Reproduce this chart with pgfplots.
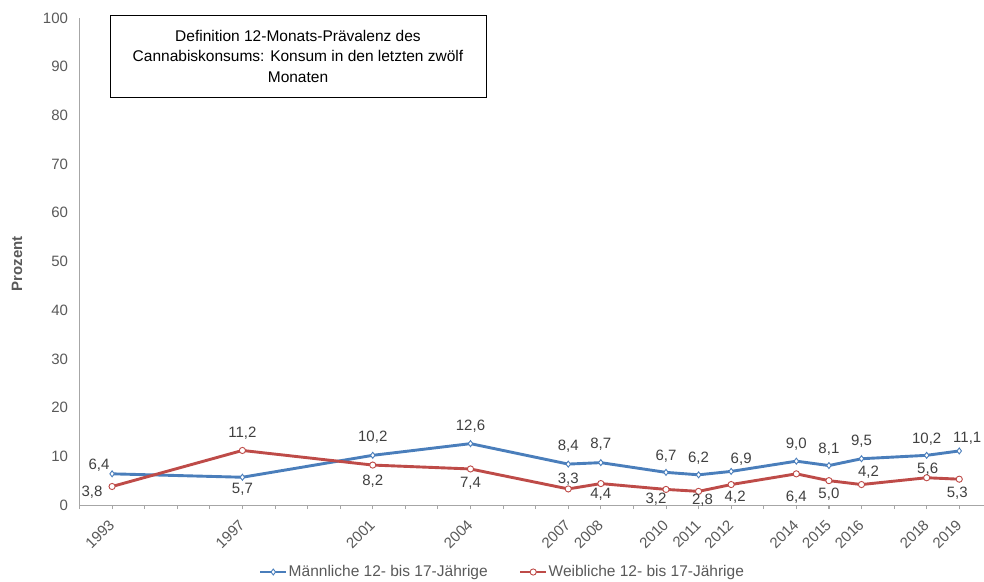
\documentclass[border=0pt]{standalone}
\usepackage{pgfplots}
\usepackage{pgfplotstable}
\pgfplotsset{compat=1.18}
\usepackage{fontspec}
\setmainfont{Liberation Sans}

\definecolor{mblue}{HTML}{4A7EBB}
\definecolor{wred}{HTML}{BE4B48}
\definecolor{ticktxt}{HTML}{595959}
\definecolor{labtxt}{HTML}{404040}
\definecolor{axgray}{HTML}{A6A6A6}

% year, value, label, label offset (dx, dy in pt)
\pgfplotstableread{
year val lab dx dy
1993 6.4 6,4 -13 9
1997 5.7 5,7 0 -12
2001 10.2 10,2 0 18
2004 12.6 12,6 0 17
2007 8.4 8,4 0 18
2008 8.7 8,7 0 18
2010 6.7 6,7 0 16
2011 6.2 6,2 0 17
2012 6.9 6,9 10 12
2014 9.0 9,0 0 17
2015 8.1 8,1 0 16
2016 9.5 9,5 0 18
2018 10.2 10,2 0 16
2019 11.1 11,1 8 13
}\maennlich

\pgfplotstableread{
year val lab dx dy
1993 3.8 3,8 -20 -6
1997 11.2 11,2 0 17
2001 8.2 8,2 0 -16
2004 7.4 7,4 0 -14
2007 3.3 3,3 0 10
2008 4.4 4,4 0 -11
2010 3.2 3,2 -10 -10
2011 2.8 2,8 4 -9
2012 4.2 4,2 4 -13
2014 6.4 6,4 0 -23
2015 5.0 5,0 0 -14
2016 4.2 4,2 7 12
2018 5.6 5,6 1 9
2019 5.3 5,3 -2 -14
}\weiblich

\begin{document}
\begin{tikzpicture}
\begin{axis}[
    at={(0,0)}, anchor=south west,
    scale only axis,
    width=904.5pt, height=487pt,
    xmin=1992, xmax=2019.76,
    ymin=0, ymax=100,
    axis lines*=left,
    axis line style={axgray, line width=0.8pt},
    clip=false,
    xtick={1993,1997,2001,2004,2007,2008,2010,2011,2012,2014,2015,2016,2018,2019},
    xticklabels={1993,1997,2001,2004,2007,2008,2010,2011,2012,2014,2015,2016,2018,2019},
    minor xtick={1992,...,2019},
    tick align=outside,
    major tick length=4pt, minor tick length=4pt,
    xtick style={axgray, line width=0.8pt},
    xticklabel style={font=\fontsize{15}{16}\selectfont, text=ticktxt, yshift=-11pt, xshift=2pt, rotate=45, anchor=east},
    ytick={0,10,...,100},
    ytick style={draw=none},
    yticklabel style={font=\fontsize{15}{17}\selectfont, text=ticktxt, xshift=-4pt},
    /pgf/number format/assume math mode=true,
    ylabel={\bfseries Prozent},
    ylabel style={at={(axis description cs:-0.0691,0.495)}, anchor=center, font=\fontsize{15}{17}\selectfont, text=ticktxt},
    legend style={at={(0.467,-0.1376)}, anchor=center, draw=none, fill=none,
        legend columns=2, font=\fontsize{15.5}{17}\selectfont, text=ticktxt,
        nodes={inner sep=1pt},
        /tikz/every even column/.append style={column sep=30pt}},
    legend image code/.code={\draw[mark repeat=2, mark phase=2] plot coordinates {(0pt,0pt) (13pt,0pt) (26pt,0pt)};},
    nodes near coords,
    point meta=explicit symbolic,
    visualization depends on={\thisrow{dx} \as \ldx},
    visualization depends on={\thisrow{dy} \as \ldy},
    every node near coord/.append style={anchor=center, xshift=\ldx pt, yshift=\ldy pt,
        font=\fontsize{15}{17}\selectfont, text=labtxt},
]
\addplot[color=mblue, line width=2.9pt, mark=diamond*, mark size=3pt,
    mark options={fill=white, draw=mblue, line width=0.9pt}]
    table[x=year, y=val, meta=lab] {\maennlich};
\addlegendentry{Männliche 12- bis 17-Jährige}
\addplot[color=wred, line width=2.9pt, mark=*, mark size=3.1pt,
    mark options={fill=white, draw=wred, line width=0.9pt}]
    table[x=year, y=val, meta=lab] {\weiblich};
\addlegendentry{Weibliche 12- bis 17-Jährige}
\end{axis}
\node[draw=black, line width=0.8pt, minimum width=376pt, minimum height=82pt, inner sep=0pt,
    align=center, font=\fontsize{15.5}{20.5}\selectfont] at (218.5pt,449pt)
    {Definition 12-Monats-Prävalenz des\\Cannabiskonsums: Konsum in den letzten zwölf\\Monaten};
\pgfresetboundingbox
\path (-79.5pt,-76pt) rectangle (904.5pt,505pt);
\end{tikzpicture}
\end{document}
